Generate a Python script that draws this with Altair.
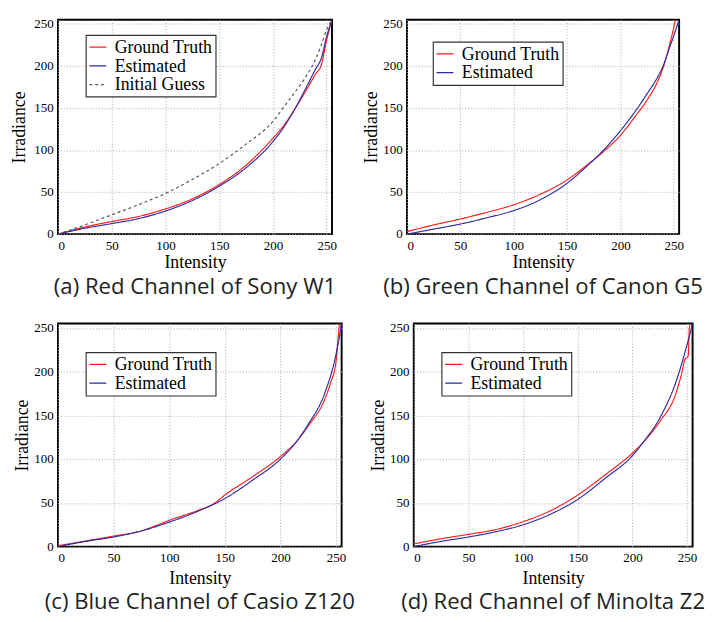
import altair as alt
import pandas as pd

# ---------------- data ----------------
# (a) Red Channel of Sony W1
a_gt_x = [0, 25, 50, 75, 100, 125, 150, 175, 200, 210, 220, 230, 240, 245, 250, 255]
a_gt_y = [0, 8.5, 15, 21, 30, 42, 59, 82, 114, 129, 148, 169, 191, 201, 231, 255]
a_est_x = [0, 25, 50, 75, 100, 125, 150, 175, 200, 210, 220, 230, 240, 245, 250, 255]
a_est_y = [0, 7, 12.5, 18.5, 27.5, 40, 57, 79, 110, 127, 148, 172, 197, 209, 235, 255]
a_init_x = [0, 25, 50, 75, 100, 125, 150, 175, 200, 210, 220, 230, 240, 245, 250, 255]
a_init_y = [0, 11, 23, 35, 48.5, 65, 84, 107, 134, 151, 168, 186, 209, 225, 243, 255]

# (b) Green Channel of Canon G5
b_gt_x = [0, 25, 50, 75, 100, 125, 150, 170, 185, 200, 215, 225, 235, 240, 245, 250, 251.5]
b_gt_y = [3, 11, 18, 26, 35, 47.5, 64.5, 83.5, 99, 117.5, 142, 159.5, 182, 198, 220, 246, 255]
b_est_x = [0, 25, 50, 75, 100, 125, 150, 170, 185, 200, 215, 225, 235, 240, 245, 250, 255]
b_est_y = [0, 6, 12, 19.5, 28, 41, 60.5, 82.5, 101, 123, 148, 167, 187, 200, 218, 236, 255]

# (c) Blue Channel of Casio Z120
c_gt_x = [0, 25, 50, 75, 90, 100, 125, 140, 150, 175, 200, 215, 225, 240, 245, 250, 252, 253]
c_gt_y = [1, 6.5, 12, 18, 25, 30, 41, 49, 59, 80, 103, 121, 138, 169, 187, 212, 240, 255]
c_est_x = [0, 25, 50, 75, 100, 125, 150, 175, 200, 215, 225, 240, 250, 255]
c_est_y = [0, 6, 11, 18, 28, 40, 55, 76, 100, 121, 140, 176, 220, 255]

# (d) Red Channel of Minolta Z2
d_gt_x = [0, 25, 50, 75, 100, 125, 150, 175, 200, 210, 225, 240, 245, 248, 251, 252, 253]
d_gt_y = [3, 9, 14, 19.5, 28.5, 41, 59, 82, 107, 119.5, 143, 176, 198, 214, 218, 249, 255]
d_est_x = [0, 25, 50, 75, 100, 125, 150, 175, 200, 210, 225, 240, 250, 255]
d_est_y = [0, 6, 11, 17, 25, 37, 54, 78, 104, 119.5, 147, 189, 231, 255]

ticks = [0, 50, 100, 150, 200, 250]
names = ["Ground Truth", "Estimated", "Initial Guess"]
colors = ["#ff1a1a", "#2b2ba3", "#555555"]
dashes = [[1, 0], [1, 0], [3, 3]]

SERIF = "Liberation Serif"
SANS = "Open Sans"


def frame(series):
    rows = []
    for name, xs, ys in series:
        for x, y in zip(xs, ys):
            rows.append({"x": x, "y": y, "s": name})
    return pd.DataFrame(rows)


def panel(series, caption, w, h, lx, ly, title_offset, ytp, xtp):
    df = frame(series)
    k = len(series)
    leg = alt.Legend(
        title=None, orient="none", legendX=lx, legendY=ly,
        fillColor="white", strokeColor="#333333",
        padding=3, symbolType="stroke", symbolSize=310, symbolStrokeWidth=1.3,
        labelFont=SERIF, labelFontSize=18.5, labelColor="black",
        labelOffset=8, rowPadding=0.5, cornerRadius=0,
    )
    return alt.Chart(df).mark_line(strokeWidth=1.2, interpolate="monotone", clip=True).encode(
        x=alt.X("x:Q", scale=alt.Scale(domain=[0, 255], nice=False, zero=False),
                axis=alt.Axis(values=ticks, title="Intensity", format="d", titlePadding=xtp)),
        y=alt.Y("y:Q", scale=alt.Scale(domain=[0, 255], nice=False, zero=False),
                axis=alt.Axis(values=ticks, title="Irradiance", format="d", titlePadding=ytp)),
        color=alt.Color("s:N", scale=alt.Scale(domain=names[:k], range=colors[:k]), legend=leg),
        strokeDash=alt.StrokeDash("s:N", scale=alt.Scale(domain=names[:k], range=dashes[:k]), legend=leg),
    ).properties(
        width=w, height=h,
        title=alt.TitleParams(caption, orient="bottom", anchor="middle", font=SANS,
                              fontSize=23, fontWeight="normal", color="#222222",
                              offset=title_offset),
    )


pa = panel([("Ground Truth", a_gt_x, a_gt_y), ("Estimated", a_est_x, a_est_y),
            ("Initial Guess", a_init_x, a_init_y)],
           "(a) Red Channel of Sony W1", 285, 223, 29, 16, 6, 6, 1)
pb = panel([("Ground Truth", b_gt_x, b_gt_y), ("Estimated", b_est_x, b_est_y)],
           "(b) Green Channel of Canon G5", 283, 223, 27, 23, 6, 2, 1)
pc = panel([("Ground Truth", c_gt_x, c_gt_y), ("Estimated", c_est_x, c_est_y)],
           "(c) Blue Channel of Casio Z120", 295, 232, 29, 30, 5, 2, 5)
pd_ = panel([("Ground Truth", d_gt_x, d_gt_y), ("Estimated", d_est_x, d_est_y)],
            "(d) Red Channel of Minolta Z2", 290, 232, 29, 30, 5, 2, 5)


def indep(c):
    return c.resolve_scale(color="independent", strokeDash="independent").resolve_legend(
        color="independent", strokeDash="independent")


top = indep(alt.hconcat(pa, pb, spacing=24))
bottom = indep(alt.hconcat(pc, pd_, spacing=12))

chart = indep(alt.vconcat(top, bottom, spacing=21)).properties(
    padding={"left": 0, "top": -4, "right": 0, "bottom": -10}
).configure_view(
    stroke="black", strokeWidth=2
).configure_legend(
    fillColor="white", strokeColor="#333333", strokeWidth=1.2, padding=3, cornerRadius=0
).configure_axis(
    domain=False, ticks=False, labelPadding=5,
    labelFont=SERIF, labelFontSize=13.5, labelColor="black",
    titleFont=SERIF, titleFontSize=18.5, titleFontWeight="normal", titleColor="black",
    grid=True, gridColor="#aaaaaa", gridDash=[1, 2], gridWidth=1,
)

chart.save("out.html", embed_options={"renderer": "svg", "actions": False})
